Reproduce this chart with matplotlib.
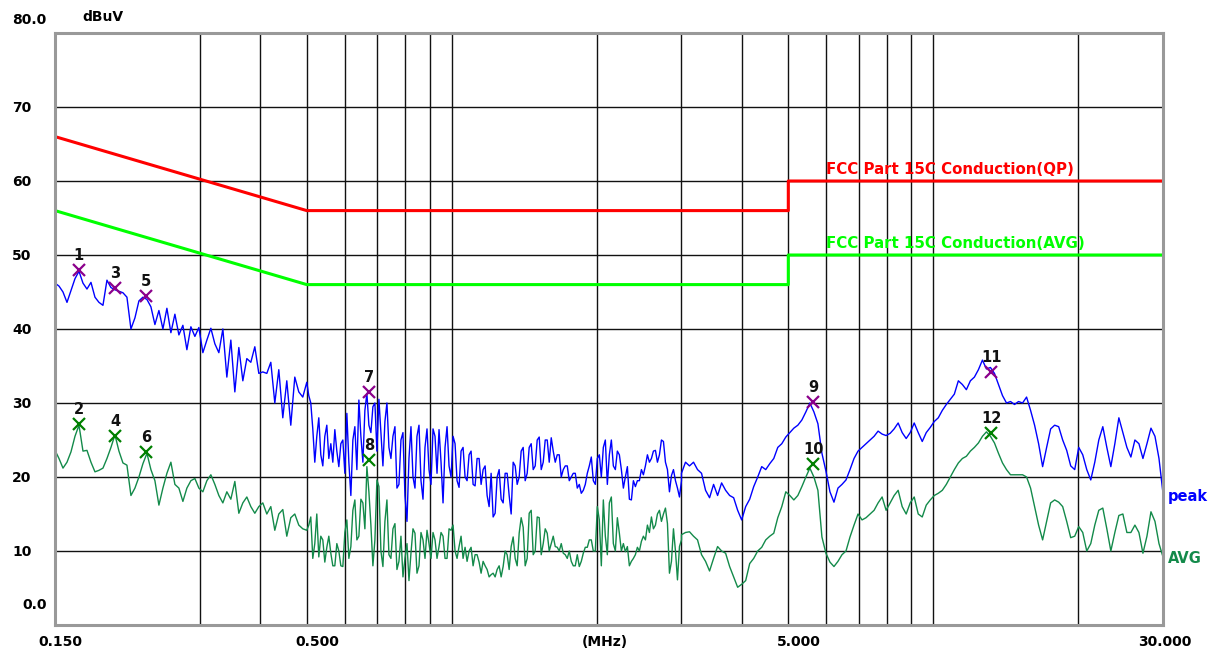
import numpy as np
import matplotlib
matplotlib.use("Agg")
import matplotlib.pyplot as plt
from matplotlib.transforms import ScaledTranslation

# conducted emission scan, FCC Part 15C, 0.15 - 30 MHz
# readings in dBuV, log-spaced sweep steps, split in three bands
# (the 0.5 - 3 MHz band is read at a finer step)

band_edges = [0.15, 0.5, 3.0, 30.0]

peak_lo = [
    46.2, 45.8, 45.0, 43.6, 45.2, 46.8, 47.8, 46.2, 45.4, 46.3, 44.3, 43.6, 43.2, 46.6, 45.6, 45.3,
    45.1, 44.9, 44.3, 40.0, 41.5, 43.8, 44.3, 44.0, 43.0, 40.6, 42.5, 40.0, 42.8, 39.5, 42.0, 39.2,
    40.5, 37.2, 40.3, 39.0, 40.2, 36.8, 38.5, 40.1, 38.0, 36.8, 40.0, 33.5, 38.5, 31.5, 37.5, 33.0,
    36.0, 35.5, 37.6, 34.0, 34.2, 34.0, 35.5, 30.0, 34.5, 28.0, 33.0, 27.0, 33.5, 31.5, 30.8, 32.8,
]
peak_mid = [
    32.8, 31.0, 30.0, 26.5, 22.0, 25.5, 28.0, 23.0, 21.5, 25.5, 27.0, 22.5, 24.5, 22.0, 26.4, 23.5,
    21.4, 24.5, 25.0, 20.5, 28.6, 22.0, 17.5, 25.0, 26.8, 21.0, 30.4, 25.5, 22.0, 29.0, 31.3, 27.0,
    26.0, 29.5, 30.0, 23.5, 30.5, 26.0, 21.5, 27.5, 30.0, 24.0, 22.5, 25.5, 26.8, 18.5, 19.0, 25.0,
    26.0, 17.5, 14.0, 22.5, 26.8, 20.0, 18.5, 25.5, 27.0, 19.5, 17.0, 24.0, 26.5, 21.0, 19.0, 26.5,
    25.5, 20.5, 26.4, 22.0, 16.5, 24.0, 26.8, 21.5, 20.0, 25.5, 24.5, 19.5, 18.6, 23.5, 24.0, 20.0,
    19.5, 23.0, 23.5, 19.0, 18.8, 22.5, 22.5, 19.0, 21.0, 21.5, 17.5, 16.0, 20.5, 14.6, 15.1, 20.0,
    21.0, 17.0, 16.5, 20.5, 20.5, 17.5, 15.0, 22.0, 21.5, 19.0, 20.0, 23.5, 24.0, 19.5, 20.5, 24.0,
    24.5, 21.0, 21.5, 25.0, 25.4, 21.0, 22.0, 25.0, 25.0, 22.0, 25.3, 23.5, 22.0, 23.0, 23.0, 20.0,
    21.0, 21.5, 21.5, 19.5, 20.0, 20.5, 20.5, 18.5, 19.0, 17.8, 18.2, 19.0, 20.5, 21.5, 22.7, 19.5,
    19.0, 22.5, 23.0, 20.0, 24.0, 25.0, 19.0, 23.0, 25.0, 21.5, 21.0, 23.5, 23.0, 21.0, 18.5, 20.0,
    21.4, 17.0, 16.9, 19.5, 18.7, 19.5, 19.5, 21.0, 20.3, 21.5, 23.0, 22.0, 22.5, 23.5, 23.6, 22.0,
    23.0, 25.0, 24.8, 22.0, 21.0, 18.0, 20.2, 21.0, 19.5, 18.5, 17.3, 19.5,
]
peak_hi = [
    20.5, 22.0, 21.5,
    22.0, 21.0, 20.5, 18.2, 17.2, 19.0, 17.5, 19.2, 18.2, 17.5, 17.2, 15.5, 14.2, 16.0, 17.0, 18.7,
    20.0, 21.4, 21.0, 21.8, 22.5, 24.0, 24.5, 25.4, 26.0, 26.6, 27.0, 27.7, 28.8, 30.0, 28.8, 27.2,
    23.2, 20.8, 18.0, 16.6, 18.5, 19.0, 19.6, 21.0, 22.5, 23.5, 24.0, 24.5, 25.0, 25.5, 26.2, 25.8,
    25.6, 25.9, 26.5, 27.3, 26.0, 25.2, 26.0, 27.3, 26.0, 24.8, 26.0, 26.7, 27.5, 28.0, 29.0, 29.8,
    30.5, 31.2, 33.0, 32.5, 31.8, 33.0, 33.5, 34.5, 35.8, 34.6, 34.8, 34.0, 32.5, 31.0, 30.0, 30.2,
    29.8, 30.2, 30.0, 30.8, 29.0, 27.0, 24.5, 21.4, 24.0, 26.5, 27.0, 26.8, 25.0, 23.6, 21.5, 21.0,
    24.0, 23.0, 21.0, 19.6, 22.0, 25.0, 26.8, 24.0, 21.4, 24.5, 28.0, 26.0, 24.0, 22.7, 25.0, 24.5,
    22.5, 24.5, 26.6, 25.5, 22.5, 17.8,
]

avg_lo = [
    23.6, 22.5, 21.2, 22.0, 23.4, 25.5, 27.0, 23.5, 23.6, 22.0, 20.7, 20.9, 21.2, 22.5, 24.0, 25.7,
    23.5, 21.9, 21.6, 17.5, 18.5, 20.0, 21.8, 23.2, 21.0, 19.5, 16.2, 18.5, 20.5, 22.0, 19.0, 18.5,
    16.7, 18.5, 19.5, 19.8, 18.5, 18.0, 19.5, 20.3, 19.0, 17.5, 16.5, 18.0, 17.0, 19.4, 15.1, 16.5,
    17.3, 16.0, 15.1, 16.0, 16.5, 15.0, 16.0, 12.8, 15.0, 15.6, 12.0, 14.5, 15.0, 13.5, 13.0, 12.8,
]
avg_mid = [
    12.8, 13.5, 14.6, 9.0, 11.0, 15.0, 9.2, 12.0, 11.5, 8.5, 10.5, 12.0, 9.7, 8.0, 8.0, 11.0,
    10.0, 8.0, 7.9, 12.5, 14.2, 9.0, 10.6, 15.5, 16.9, 11.5, 12.0, 17.0, 16.5, 13.0, 21.4, 18.0,
    13.5, 8.0, 11.5, 19.6, 18.7, 10.0, 7.9, 14.0, 16.9, 9.5, 9.0, 13.0, 13.7, 7.5, 8.6, 12.0,
    6.5, 9.0, 11.0, 6.0, 9.7, 13.0, 12.4, 7.0, 8.0, 12.5, 11.5, 9.0, 12.8, 11.0, 9.0, 12.5,
    11.5, 9.0, 10.6, 12.5, 12.0, 9.0, 9.0, 13.0, 12.8, 13.5, 10.0, 9.0, 10.6, 12.0, 9.0, 10.5,
    8.6, 10.0, 10.5, 8.0, 9.5, 9.5, 8.5, 7.0, 8.6, 8.0, 7.5, 6.5, 6.8, 7.0, 6.5, 7.5,
    8.0, 6.5, 7.9, 10.0, 9.5, 7.5, 10.6, 11.9, 9.0, 8.0, 12.4, 14.5, 13.2, 8.0, 9.0, 15.1,
    15.5, 9.5, 10.0, 14.6, 14.5, 9.5, 11.0, 13.0, 12.4, 10.0, 11.0, 12.0, 10.6, 10.5, 10.0, 11.0,
    9.7, 9.5, 9.0, 10.0, 8.6, 8.0, 8.0, 9.5, 7.9, 8.6, 9.7, 10.5, 10.5, 11.5, 11.5, 10.0,
    10.0, 16.0, 14.2, 8.0, 16.9, 12.0, 9.5, 16.5, 17.3, 11.0, 10.0, 14.5, 12.4, 10.0, 11.0, 9.9,
    10.6, 8.0, 8.6, 9.0, 9.5, 10.5, 10.0, 11.3, 12.0, 11.5, 13.5, 12.5, 14.6, 13.0, 13.5, 15.0,
    15.5, 14.0, 15.0, 15.8, 13.7, 7.0, 8.6, 13.0, 10.0, 6.1, 10.6, 11.5,
]
avg_hi = [
    12.2, 12.5, 12.6,
    12.0, 11.5, 9.5, 8.6, 7.3, 9.0, 10.6, 10.0, 9.7, 7.9, 6.5, 5.1, 5.5, 6.0, 8.3, 9.0,
    10.0, 10.5, 11.5, 12.0, 12.4, 14.5, 16.0, 18.0, 17.5, 16.9, 17.5, 18.7, 20.0, 21.2, 20.0, 18.2,
    11.9, 9.7, 8.5, 7.9, 8.6, 9.5, 10.0, 11.9, 13.5, 15.0, 14.2, 14.5, 15.0, 15.5, 16.5, 17.3,
    15.5, 16.5, 17.5, 18.2, 16.0, 15.0, 16.5, 17.3, 15.0, 14.6, 16.2, 16.9, 17.5, 17.8, 18.2, 19.0,
    20.0, 21.0, 21.9, 22.5, 22.8, 23.5, 24.0, 24.6, 25.5, 26.1, 25.5, 24.6, 23.2, 21.9, 21.0, 20.3,
    20.3, 20.3, 20.3, 20.0, 18.5, 16.0, 13.5, 11.5, 14.0, 16.5, 16.9, 16.6, 16.0, 14.0, 11.8, 12.0,
    13.3, 12.5, 10.0, 11.0, 13.5, 15.5, 15.8, 13.0, 10.0, 12.5, 14.8, 15.0, 12.5, 12.5, 13.5, 12.5,
    9.7, 12.0, 15.3, 14.0, 11.0, 9.2,
]

# limit lines
lim_freq = [0.15, 0.5, 0.5, 5.0, 5.0, 30.0]
qp_limit = [66, 56, 56, 56, 60, 60]
avg_limit = [56, 46, 46, 46, 50, 50]

# marked points
mk_peak_no = [1, 3, 5, 7, 9, 11]
mk_peak_f = [0.168, 0.200, 0.232, 0.673, 5.64, 13.2]
mk_peak_v = [48.0, 45.5, 44.4, 31.5, 30.1, 34.2]
mk_avg_no = [2, 4, 6, 8, 10, 12]
mk_avg_f = [0.168, 0.200, 0.232, 0.673, 5.64, 13.2]
mk_avg_v = [27.2, 25.5, 23.4, 22.3, 21.8, 26.0]

grid_f = [0.3, 0.4, 0.5, 0.6, 0.7, 0.8, 0.9, 1, 2, 3, 4, 5, 6, 7, 8, 9, 10, 20]
grid_db = [10, 20, 30, 40, 50, 60, 70]


def sweep(parts):
    f = [np.geomspace(band_edges[i], band_edges[i + 1], len(p)) for i, p in enumerate(parts)]
    return np.concatenate(f), np.concatenate(parts)


freq_pk, peak_dbuv = sweep([peak_lo, peak_mid, peak_hi])
freq_av, avg_dbuv = sweep([avg_lo, avg_mid, avg_hi])

plt.rcParams['font.family'] = ['DejaVu Sans']
plt.rcParams['font.weight'] = 'bold'

fig = plt.figure(figsize=(12.18, 6.48), dpi=100)
ax = fig.add_axes([55/1218, 23/648, 1108/1218, 592/648])
ax.set_xscale('log')
ax.set_xlim(0.15, 30)
ax.set_ylim(0, 80)

for f in grid_f:
    ax.axvline(f, color='#111111', lw=1.0, zorder=1)
for d in grid_db:
    ax.axhline(d, color='#111111', lw=1.0, zorder=1)

ax.plot(lim_freq, qp_limit, color='#ff0000', lw=2.2, zorder=3)
ax.plot(lim_freq, avg_limit, color='#00ff00', lw=2.2, zorder=3)
ax.text(6.0, 61.0, 'FCC Part 15C Conduction(QP)', color='#ff0000', fontsize=10.8, zorder=4)
ax.text(6.0, 51.0, 'FCC Part 15C Conduction(AVG)', color='#00ff00', fontsize=10.8, zorder=4)

ax.plot(freq_pk, peak_dbuv, color='#0000ff', lw=1.0, zorder=3)
ax.plot(freq_av, avg_dbuv, color='#138a4a', lw=1.0, zorder=3)

ax.plot(mk_peak_f, mk_peak_v, 'x', color='#8b008b', ms=9, mew=1.6, zorder=5)
ax.plot(mk_avg_f, mk_avg_v, 'x', color='#008000', ms=9, mew=1.6, zorder=5)
for n, f, v in zip(mk_peak_no + mk_avg_no, mk_peak_f + mk_avg_f, mk_peak_v + mk_avg_v):
    ax.annotate(str(n), (f, v), xytext=(0, 5), textcoords='offset points',
                ha='center', va='bottom', fontsize=10.5, color='#111111', zorder=6)

ax.text(1.004, 17.3, 'peak', transform=ax.get_yaxis_transform(), color='#0000ff',
        fontsize=10.5, va='center', clip_on=False)
ax.text(1.004, 9.0, 'AVG', transform=ax.get_yaxis_transform(), color='#138a4a',
        fontsize=10.5, va='center', clip_on=False)

# axis text
ax.set_yticks(grid_db)
ax.set_yticklabels([str(d) for d in grid_db], fontsize=10)
ax.tick_params(axis='y', length=0, pad=31)
for lab in ax.get_yticklabels():
    lab.set_horizontalalignment('left')
ax.text(-0.0388, 81.8, '80.0', transform=ax.get_yaxis_transform(), fontsize=10,
        va='center', clip_on=False)
ax.text(0.025, 82.2, 'dBuV', transform=ax.get_yaxis_transform(), fontsize=10,
        va='center', clip_on=False)
ax.text(-0.0298, 2.7, '0.0', transform=ax.get_yaxis_transform(), fontsize=10,
        va='center', clip_on=False)

xt = [0.15, 0.5, 2.0, 5.0, 30.0]
ax.set_xticks(xt)
ax.set_xticks([], minor=True)
ax.set_xticklabels(['0.150', '0.500', '(MHz)', '5.000', '30.000'], fontsize=10)
ax.tick_params(axis='x', length=0, pad=7)
shifts = [5, 11, 8, 11, 2]
for lab, s in zip(ax.get_xticklabels(), shifts):
    lab.set_transform(lab.get_transform() + ScaledTranslation(s/100, 0, fig.dpi_scale_trans))

for sp in ax.spines.values():
    sp.set_color('#999999')
    sp.set_linewidth(2.2)
    sp.set_zorder(7)

fig.savefig('out.png', dpi=100)
